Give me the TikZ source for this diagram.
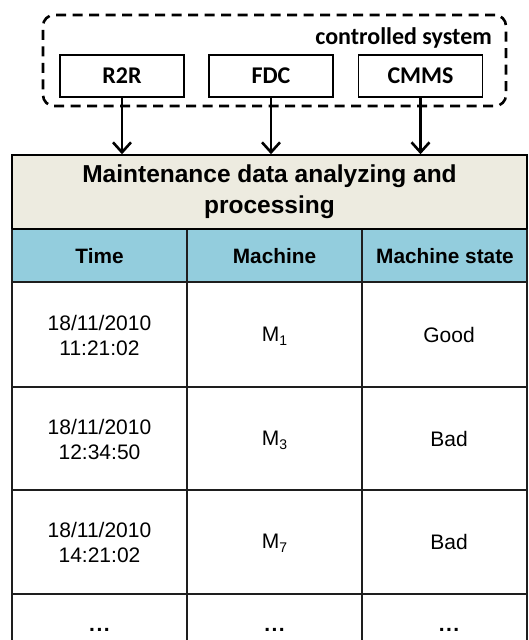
\documentclass[tikz,border=0pt]{standalone}
\usepackage{fontspec}
\setmainfont{Liberation Sans}
\newfontfamily\calibri{Carlito}
\usetikzlibrary{arrows.meta}
\definecolor{beige}{HTML}{EDEBE0}
\definecolor{aqua}{HTML}{93CDDD}
\definecolor{gridc}{HTML}{1E1E1E}
\newcommand{\msub}[1]{M\raisebox{-0.35ex}{\fontsize{14}{14}\selectfont #1}}
\newcommand{\tdots}{.\hspace{1.5pt}.\hspace{1.5pt}.}
\tikzset{
  sysbox/.style={draw, line width=2.6pt, dash pattern=on 10pt off 6.5pt, rounded corners=11pt, minimum width=463pt, minimum height=91pt, inner sep=0pt},
  srcbox/.style={draw, line width=1.4pt, fill=white, minimum width=124pt, minimum height=42pt, inner sep=0pt, font=\calibri\bfseries\fontsize{24}{28}\selectfont},
  feed/.style={line width=2.6pt, -{Straight Barb[length=10pt, width=18pt]}},
  headbox/.style={draw, line width=1.5pt, fill=beige, minimum width=515pt, minimum height=74pt, inner sep=0pt, align=center, font=\bfseries\fontsize{24.5}{31}\selectfont},
  colhead/.style={inner sep=0pt, font=\bfseries\fontsize{20.8}{25}\selectfont},
  cell/.style={inner sep=0pt, align=center, font=\fontsize{21}{25}\selectfont},
  dotcell/.style={inner sep=0pt, anchor=base, font=\bfseries\fontsize{21}{25}\selectfont},
  gridline/.style={draw=gridc, line width=2pt}
}
\begin{document}
\begin{tikzpicture}[x=1pt,y=-1pt]
\useasboundingbox (0,0) rectangle (528,640);
\clip (0,0) rectangle (528,640);
% controlled system
\node[sysbox] (sys) at (274.5,60.5) {};
\node[anchor=base east, inner sep=0pt, font=\calibri\bfseries\fontsize{24}{28}\selectfont] (lbl) at (492,44) {controlled system};
\node[srcbox] (r2r) at (122,76) {R2R};
\node[srcbox] (fdc) at (271,76) {FDC};
\node[srcbox] (cmms) at (420.5,76) {CMMS};
% header
\node[headbox] (head) at (269.5,192) {Maintenance data analyzing and\\processing};
\draw[feed] (r2r.south) -- (r2r.south |- head.north);
\draw[feed] (fdc.south) -- (fdc.south |- head.north);
\draw[feed] (cmms.south) -- (cmms.south |- head.north);
% table
\fill[aqua] (12,229) rectangle (527,282);
\foreach \y in {229,282,387,490,594} \draw[gridline] (12,\y) -- (527,\y);
\foreach \x in {12,187,362,527} \draw[gridline] (\x,229) -- (\x,660);
\draw[line width=1.5pt] (12,229) -- (527,229);
\node[colhead] (h1) at (99.5,256) {Time};
\node[colhead] (h2) at (274.5,256) {Machine};
\node[colhead] (h3) at (445,256) {Machine state};
\node[cell] (t1) at (99.5,335) {18/11/2010\\11:21:02};
\node[cell] (m1) at (274.5,336) {\msub{1}};
\node[cell] (s1) at (449,335) {Good};
\node[cell] (t2) at (99.5,439) {18/11/2010\\12:34:50};
\node[cell] (m2) at (274.5,440) {\msub{3}};
\node[cell] (s2) at (449,439) {Bad};
\node[cell] (t3) at (99.5,542) {18/11/2010\\14:21:02};
\node[cell] (m3) at (274.5,543) {\msub{7}};
\node[cell] (s3) at (449,542) {Bad};
\node[dotcell] (e1) at (99.5,631) {\tdots};
\node[dotcell] (e2) at (274.5,631) {\tdots};
\node[dotcell] (e3) at (449,631) {\tdots};
\end{tikzpicture}
\end{document}
